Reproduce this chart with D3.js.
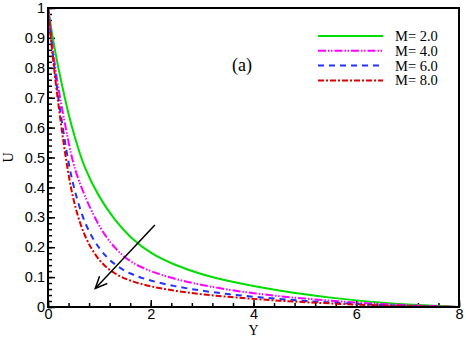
<!DOCTYPE html>
<html>
<head>
<meta charset="utf-8">
<script src="https://cdn.jsdelivr.net/npm/d3@7"></script>
<style>
body { margin: 0; background: #fff; }
svg { display: block; }
.tick text { font-family: "Liberation Sans", Arial, sans-serif; font-size: 14.5px; }
</style>
</head>
<body>
<div id="chart"></div>
<script>
// values
var ys = [0, 0.1, 0.2, 0.3, 0.4, 0.5, 0.7, 1.0, 1.3, 1.6, 2.0, 2.5, 3.0, 3.5, 4.0, 4.5, 5.0, 5.5, 6.0, 6.5, 7.0, 7.5, 8.0];
var u_m2 = [1.0, 0.89, 0.80, 0.72, 0.645, 0.58, 0.465, 0.365, 0.29, 0.232, 0.178, 0.138, 0.108, 0.087, 0.070, 0.055, 0.042, 0.031, 0.022, 0.014, 0.008, 0.004, 0.0];
var u_m4 = [1.0, 0.85, 0.73, 0.64, 0.55, 0.47, 0.375, 0.265, 0.195, 0.15, 0.118, 0.092, 0.073, 0.058, 0.046, 0.036, 0.028, 0.021, 0.015, 0.010, 0.006, 0.003, 0.0];
var u_m6 = [1.0, 0.83, 0.70, 0.585, 0.48, 0.40, 0.28, 0.19, 0.14, 0.11, 0.087, 0.068, 0.054, 0.043, 0.034, 0.027, 0.020, 0.015, 0.010, 0.006, 0.003, 0.001, 0.0];
var u_m8 = [1.0, 0.82, 0.68, 0.55, 0.44, 0.35, 0.235, 0.15, 0.11, 0.087, 0.068, 0.053, 0.042, 0.034, 0.027, 0.021, 0.016, 0.012, 0.008, 0.005, 0.003, 0.001, 0.0];
var labels = ["M= 2.0", "M= 4.0", "M= 6.0", "M= 8.0"];
var colors = ["#00dd00", "#ff00ff", "#2233ff", "#dd0000"];
var dashes = [null, "8,2,1.5,1.5,1.5,2", "6,5", "6,2,2,2"];
var arrow_from = [2.08, 0.274];
var arrow_to = [0.92, 0.062];

var W = 466, H = 337;
var m = {left: 48, right: 7, top: 8, bottom: 30};

var svg = d3.select("#chart").append("svg")
    .attr("width", W).attr("height", H);

var x = d3.scaleLinear().domain([0, 8]).range([m.left, W - m.right]);
var y = d3.scaleLinear().domain([0, 1]).range([H - m.bottom, m.top]);

// minor ticks first, then major
svg.append("g")
    .attr("transform", "translate(0," + (H - m.bottom) + ")")
    .call(d3.axisBottom(x).tickValues(d3.range(0, 8.01, 0.4)).tickSize(-4).tickFormat(""))
    .call(function(g){ g.select(".domain").remove(); });
svg.append("g")
    .attr("transform", "translate(0," + (H - m.bottom) + ")")
    .call(d3.axisBottom(x).tickValues([0, 2, 4, 6, 8]).tickSize(-7).tickPadding(2).tickFormat(d3.format("d")))
    .call(function(g){ g.select(".domain").remove(); g.selectAll("text").attr("fill", "#000"); });

svg.append("g")
    .attr("transform", "translate(" + m.left + ",0)")
    .call(d3.axisLeft(y).tickValues(d3.range(0, 1.001, 0.02)).tickSize(-4).tickFormat(""))
    .call(function(g){ g.select(".domain").remove(); });
svg.append("g")
    .attr("transform", "translate(" + m.left + ",0)")
    .call(d3.axisLeft(y).tickValues(d3.range(0, 1.001, 0.1)).tickSize(-7).tickPadding(3)
          .tickFormat(function(d){ return d == 0 ? "0" : (Math.abs(d - 1) < 1e-6 ? "1" : d3.format(".1f")(d)); }))
    .call(function(g){ g.select(".domain").remove(); g.selectAll("text").attr("fill", "#000"); });

svg.selectAll(".tick line").attr("stroke", "#000").attr("stroke-width", 1.5);

// curves
var series = [u_m2, u_m4, u_m6, u_m8];
var line = d3.line()
    .x(function(d, i){ return x(ys[i]); })
    .y(function(d){ return y(d); })
    .curve(d3.curveBasis);

svg.append("g").selectAll("path")
    .data(series)
    .enter().append("path")
    .attr("d", line)
    .attr("fill", "none")
    .attr("stroke", function(d, i){ return colors[i]; })
    .attr("stroke-width", 2)
    .attr("stroke-dasharray", function(d, i){ return dashes[i]; });

// frame
svg.append("rect")
    .attr("x", m.left).attr("y", m.top)
    .attr("width", W - m.right - m.left).attr("height", H - m.bottom - m.top)
    .attr("fill", "none").attr("stroke", "#000").attr("stroke-width", 2);

// arrow
var ax1 = x(arrow_from[0]), ay1 = y(arrow_from[1]);
var ax2 = x(arrow_to[0]), ay2 = y(arrow_to[1]);
var ang = Math.atan2(ay2 - ay1, ax2 - ax1);
var hl = 13, ha = 0.42;
svg.append("line")
    .attr("x1", ax1).attr("y1", ay1).attr("x2", ax2).attr("y2", ay2)
    .attr("stroke", "#000").attr("stroke-width", 1.5);
svg.append("path")
    .attr("d", "M" + (ax2 - hl * Math.cos(ang - ha)) + "," + (ay2 - hl * Math.sin(ang - ha))
          + "L" + ax2 + "," + ay2
          + "L" + (ax2 - hl * Math.cos(ang + ha)) + "," + (ay2 - hl * Math.sin(ang + ha)))
    .attr("fill", "none").attr("stroke", "#000").attr("stroke-width", 1.5);

// legend
var lg = svg.append("g").attr("transform", "translate(318,36)");
var rows = lg.selectAll("g").data(labels).enter().append("g")
    .attr("transform", function(d, i){ return "translate(0," + (i * 14.8) + ")"; });
rows.append("line")
    .attr("x1", 0).attr("x2", 65)
    .attr("stroke", function(d, i){ return colors[i]; })
    .attr("stroke-width", 2)
    .attr("stroke-dasharray", function(d, i){ return dashes[i]; });
rows.append("text")
    .attr("x", 77).attr("dy", "0.35em")
    .style("font-family", "'Liberation Serif', 'Times New Roman', serif")
    .style("font-size", "14.5px")
    .text(function(d){ return d; });

// panel label
svg.append("text")
    .attr("x", 242).attr("y", 71)
    .attr("text-anchor", "middle")
    .style("font-family", "'Liberation Serif', 'Times New Roman', serif")
    .style("font-size", "18px")
    .text("(a)");

// axis titles
svg.append("text")
    .attr("x", x(4)).attr("y", 335)
    .attr("text-anchor", "middle")
    .style("font-family", "'Liberation Serif', 'Times New Roman', serif")
    .style("font-size", "14px")
    .text("Y");
svg.append("text")
    .attr("transform", "translate(13," + y(0.5) + ") rotate(-90)")
    .attr("text-anchor", "middle")
    .style("font-family", "'Liberation Serif', 'Times New Roman', serif")
    .style("font-size", "14px")
    .text("U");
</script>
</body>
</html>
